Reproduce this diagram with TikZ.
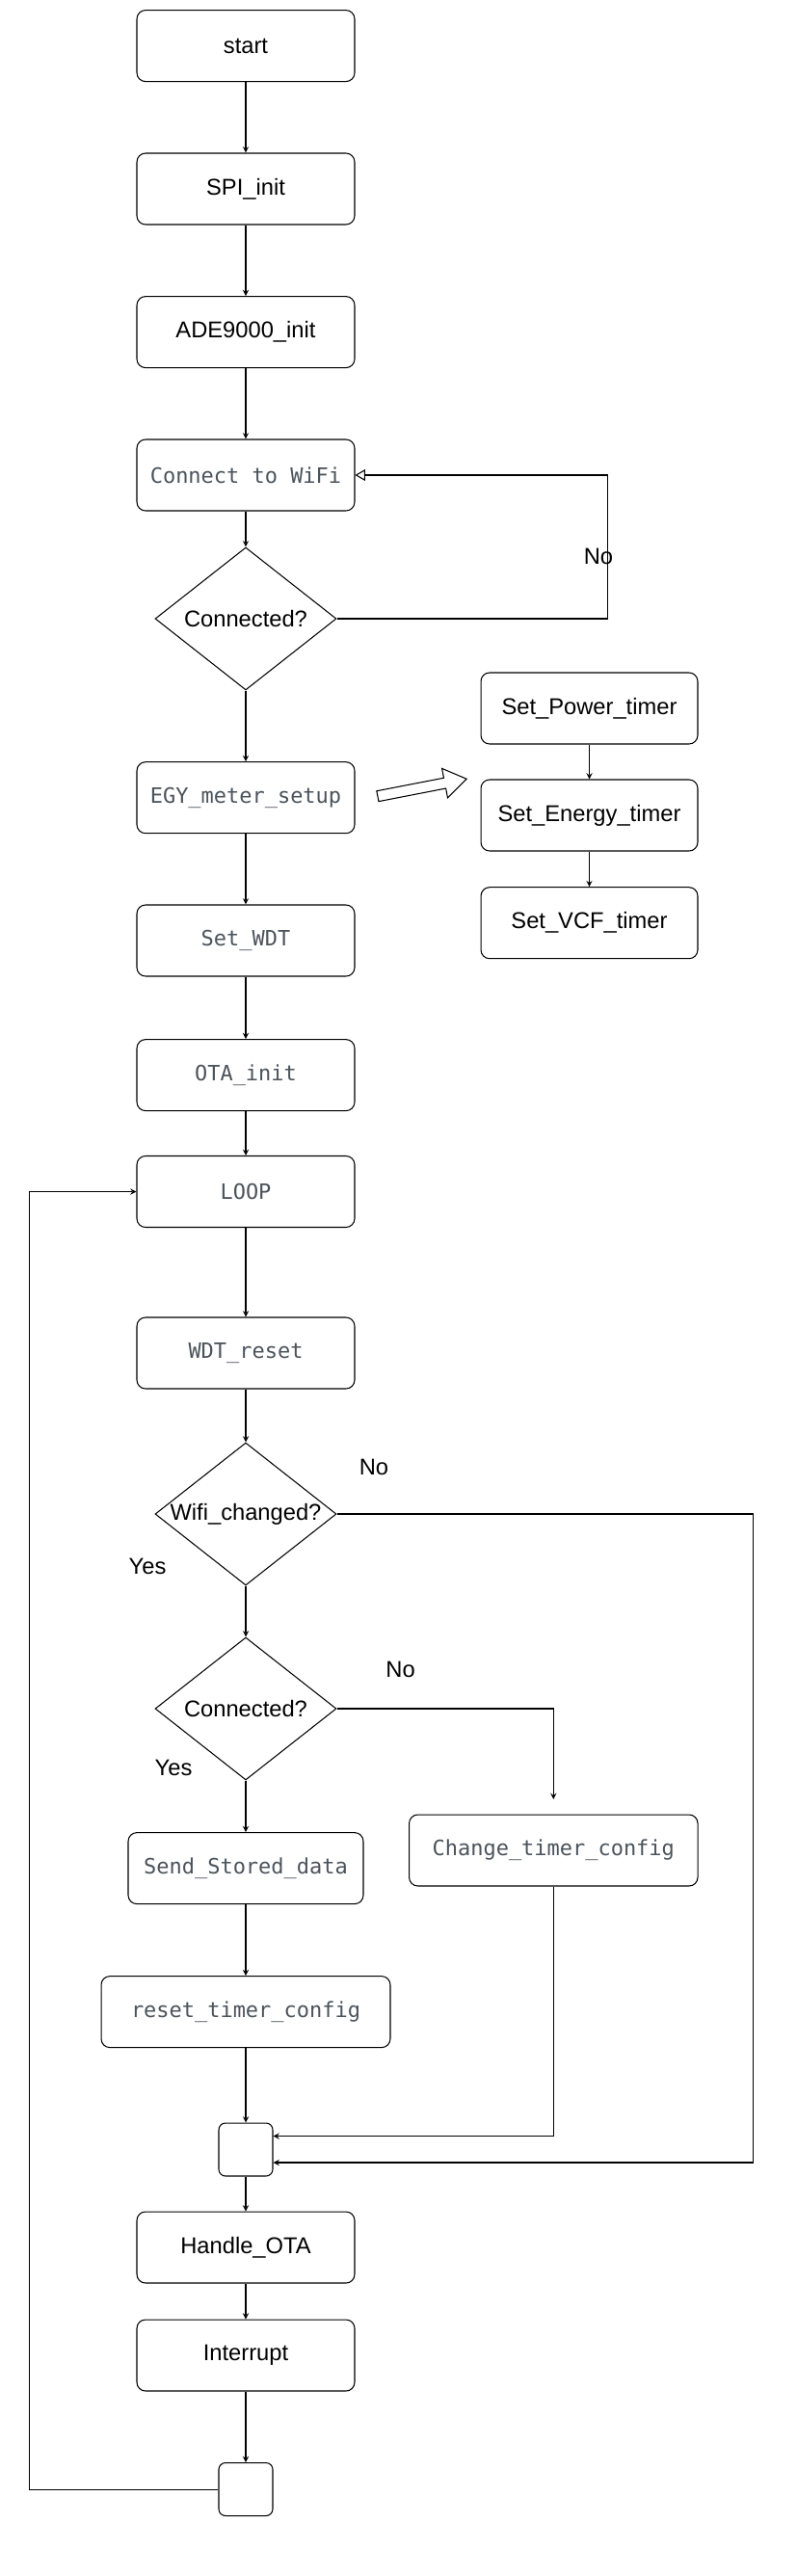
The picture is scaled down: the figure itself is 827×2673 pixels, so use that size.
\documentclass[tikz,border=0pt]{standalone}
\usepackage{fontspec}
\setmainfont{Liberation Sans}
\setmonofont{DejaVu Sans Mono}
\usepackage{xcolor}
\usepackage{tikz}
\usetikzlibrary{arrows,positioning,shapes.geometric,shapes.arrows}

\definecolor{codegray}{RGB}{75,83,91}
\tikzset{
    procbox/.style={draw, rounded corners=0.18cm, minimum width=4.52cm, minimum height=1.48cm, inner sep=0pt, font=\fontsize{13.5}{16}\selectfont},
    codebox/.style={procbox, text=codegray, font=\ttfamily\fontsize{12.5}{15}\selectfont},
    decision/.style={draw, diamond, aspect=1.27, minimum width=3.76cm, minimum height=2.96cm, inner sep=0pt, font=\fontsize{13.5}{16}\selectfont},
    joinbox/.style={draw, rounded corners=0.14cm, minimum width=1.12cm, minimum height=1.1cm},
    lbl/.style={font=\fontsize{13.5}{16}\selectfont}
}

\begin{document}
\begin{tikzpicture}[x=0.02cm, y=-0.02cm, line width=0.6pt, >=stealth]
    \useasboundingbox (0,0) rectangle (827,2673);
    \node[procbox] (start) at (255,47.6) {
        start
    };
    \node[procbox] (spi) at (255,196) {
        SPI\_init
    };
    \node[procbox] (ade) at (255,344.6) {
        ADE9000\_init
    };
    \node[codebox] (wifi) at (255,493) {
        Connect to WiFi
    };
    \node[decision] (conn) at (255,642) {
        Connected?
    };
    \node[lbl] (no1) at (621,577) {
        No
    };
    \node[codebox] (egy) at (255,827.7) {
        EGY\_meter\_setup
    };
    \node[codebox] (wdt) at (255,976) {
        Set\_WDT
    };
    \node[codebox] (ota) at (255,1115.6) {
        OTA\_init
    };
    \node[codebox] (loop) at (255,1236.5) {
        LOOP
    };
    \node[draw, single arrow, single arrow tip angle=68, single arrow head extend=0.2cm, minimum height=1.88cm, inner sep=0.1cm, rotate=11] (hint) at (434,818) {};
    \node[procbox, minimum width=4.5cm] (power) at (611.5,735) {
        Set\_Power\_timer
    };
    \node[procbox, minimum width=4.5cm] (energy) at (611.5,846) {
        Set\_Energy\_timer
    };
    \node[procbox, minimum width=4.5cm] (vcf) at (611.5,957.7) {
        Set\_VCF\_timer
    };
    \node[codebox] (wdtreset) at (255,1404) {
        WDT\_reset
    };
    \node[decision] (wifichg) at (255,1571) {
        Wifi\_changed?
    };
    \node[lbl] (no2) at (388,1522) {
        No
    };
    \node[lbl] (yes1) at (153,1625) {
        Yes
    };
    \node[decision] (conn2) at (255,1773) {
        Connected?
    };
    \node[lbl] (no3) at (415.6,1732) {
        No
    };
    \node[lbl] (yes2) at (180,1834) {
        Yes
    };
    \node[codebox, minimum width=4.88cm] (send) at (255,1938.6) {
        Send\_Stored\_data
    };
    \node[codebox, minimum width=5.99cm] (change) at (574.3,1920) {
        Change\_timer\_config
    };
    \node[codebox, minimum width=6cm] (resettimer) at (255,2087.6) {
        reset\_timer\_config
    };
    \node[joinbox] (join) at (255,2230.5) {};
    \node[procbox] (handle) at (255,2332) {
        Handle\_OTA
    };
    \node[procbox] (interrupt) at (255,2444) {
        Interrupt
    };
    \node[joinbox] (join2) at (255,2583) {};
    \draw[->] (start) to (spi);
    \draw[->] (spi) to (ade);
    \draw[->] (ade) to (wifi);
    \draw[->] (wifi) to (conn);
    \draw[-open triangle 60] (conn.east) -- ++(281,0) |- (wifi.east);
    \draw[->] (conn) to (egy);
    \draw[->] (egy) to (wdt);
    \draw[->] (wdt) to (ota);
    \draw[->] (ota) to (loop);
    \draw[->] (power) to (energy);
    \draw[->] (energy) to (vcf);
    \draw[->] (loop) to (wdtreset);
    \draw[->] (wdtreset) to (wifichg);
    \draw[->] (wifichg) to (conn2);
    \draw[->] (conn2) to (send);
    \draw[->] (send) to (resettimer);
    \draw[->] (resettimer) to (join);
    \draw[->] (join) to (handle);
    \draw[->] (handle) to (interrupt);
    \draw[->] (interrupt) to (join2);
    \draw[->, shorten >=0.31cm] (conn2.east) -| (change.north);
    \draw[->] (change.south) |- ([yshift=0.28cm]join.east);
    \draw[->] (wifichg.east) -- ++(431.6,0) |- ([yshift=-0.27cm]join.east);
    \draw[->] (join2.west) -- ++(-196,0) |- (loop.west);
\end{tikzpicture}
\end{document}
